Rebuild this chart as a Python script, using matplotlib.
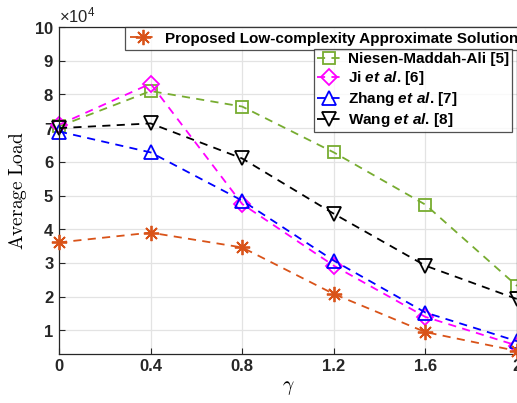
import numpy as np
import matplotlib
matplotlib.use("Agg")
import matplotlib.pyplot as plt

plt.rcParams['font.family'] = ['Liberation Sans', 'DejaVu Sans']
# custom math fonts so that "et al." comes out bold italic sans in the legend
plt.rcParams['mathtext.fontset'] = 'custom'
plt.rcParams['mathtext.rm'] = 'Liberation Sans'
plt.rcParams['mathtext.bf'] = 'Liberation Sans:bold:italic'

gamma = [0, 0.4, 0.8, 1.2, 1.6, 2.0]
proposed = [36100, 39000, 34600, 20800, 9500, 3900]
niesen = [70500, 81000, 76400, 62800, 47300, 23200]
ji = [71000, 83200, 47500, 29200, 14000, 5500]
zhang = [69000, 62800, 48500, 30700, 15300, 6800]
wang = [70000, 71400, 61000, 44600, 29200, 19300]

xticks = [0, 0.4, 0.8, 1.2, 1.6, 2]
xticklabels = ['0', '0.4', '0.8', '1.2', '1.6', '2']
yticks = [10000 * k for k in range(1, 11)]

fig = plt.figure(figsize=(5.17, 4.03), dpi=100)
ax = fig.add_axes([59 / 517, 1 - 354 / 403, 458 / 517, 327 / 403])

dash = (0, (4.5, 3.5))
h0, = ax.plot(gamma, proposed, linestyle=dash, color='#D95319', marker=(8, 2, 0), ms=11,
              mew=1.3, lw=1.3, clip_on=False, zorder=5)
h1, = ax.plot(gamma, niesen, linestyle=dash, color='#77AC30', marker='s', ms=8,
              mfc='none', mew=1.3, lw=1.3, clip_on=False)
h2, = ax.plot(gamma, ji, linestyle=dash, color='#FF00FF', marker='D', ms=8,
              mfc='none', mew=1.3, lw=1.3, clip_on=False)
h3, = ax.plot(gamma, zhang, linestyle=dash, color='#0000FF', marker='^', ms=10,
              mfc='none', mew=1.3, lw=1.3, clip_on=False)
h4, = ax.plot(gamma, wang, linestyle=dash, color='black', marker='v', ms=10,
              mfc='none', mew=1.3, lw=1.3, clip_on=False)

ax.set_xlim(0, 2)
ax.set_ylim(3000, 100000)
ax.set_xticks(xticks)
ax.set_xticklabels(xticklabels)
ax.set_yticks(yticks)
ax.ticklabel_format(axis='y', style='sci', scilimits=(4, 4), useMathText=True)
ax.grid(True, color='#e3e3e3', lw=0.9)
ax.set_axisbelow(True)
ax.tick_params(direction='in', length=4, labelsize=12, colors='#262626', width=0.8)
for lab in ax.get_xticklabels() + ax.get_yticklabels():
    lab.set_fontweight('bold')
for s in ax.spines.values():
    s.set_color('#262626')
    s.set_linewidth(0.9)
ax.yaxis.get_offset_text().set_fontsize(12)
ax.yaxis.get_offset_text().set_color('#262626')

ax.set_xlabel(r'$\gamma$', fontsize=14, labelpad=4, math_fontfamily='cm')
ax.set_ylabel(r'$\mathrm{Average\ Load}$', fontsize=14, labelpad=4, math_fontfamily='cm')

leg1 = ax.legend([h0], ['Proposed Low-complexity Approximate Solution'],
                 loc='upper left', bbox_to_anchor=(66 / 458, 1.0),
                 prop={'weight': 'bold', 'size': 11}, frameon=True, fancybox=False,
                 edgecolor='#262626', borderpad=0.3, handlelength=1.8,
                 handletextpad=0.5, borderaxespad=0)
leg1.get_frame().set_linewidth(0.9)
ax.add_artist(leg1)

leg2 = ax.legend([h1, h2, h3, h4],
                 ['Niesen-Maddah-Ali [5]', r'Ji $\mathbf{et\ al}$. [6]',
                  r'Zhang $\mathbf{et\ al}$. [7]', r'Wang $\mathbf{et\ al}$. [8]'],
                 loc='upper left', bbox_to_anchor=(255 / 458, 1 - 22 / 327),
                 prop={'weight': 'bold', 'size': 11}, frameon=True, fancybox=False,
                 edgecolor='#262626', borderpad=0.2, handlelength=1.5,
                 handletextpad=0.5, labelspacing=0.2, borderaxespad=0)
leg2.get_frame().set_linewidth(0.9)

fig.savefig('out.png', dpi=100)
